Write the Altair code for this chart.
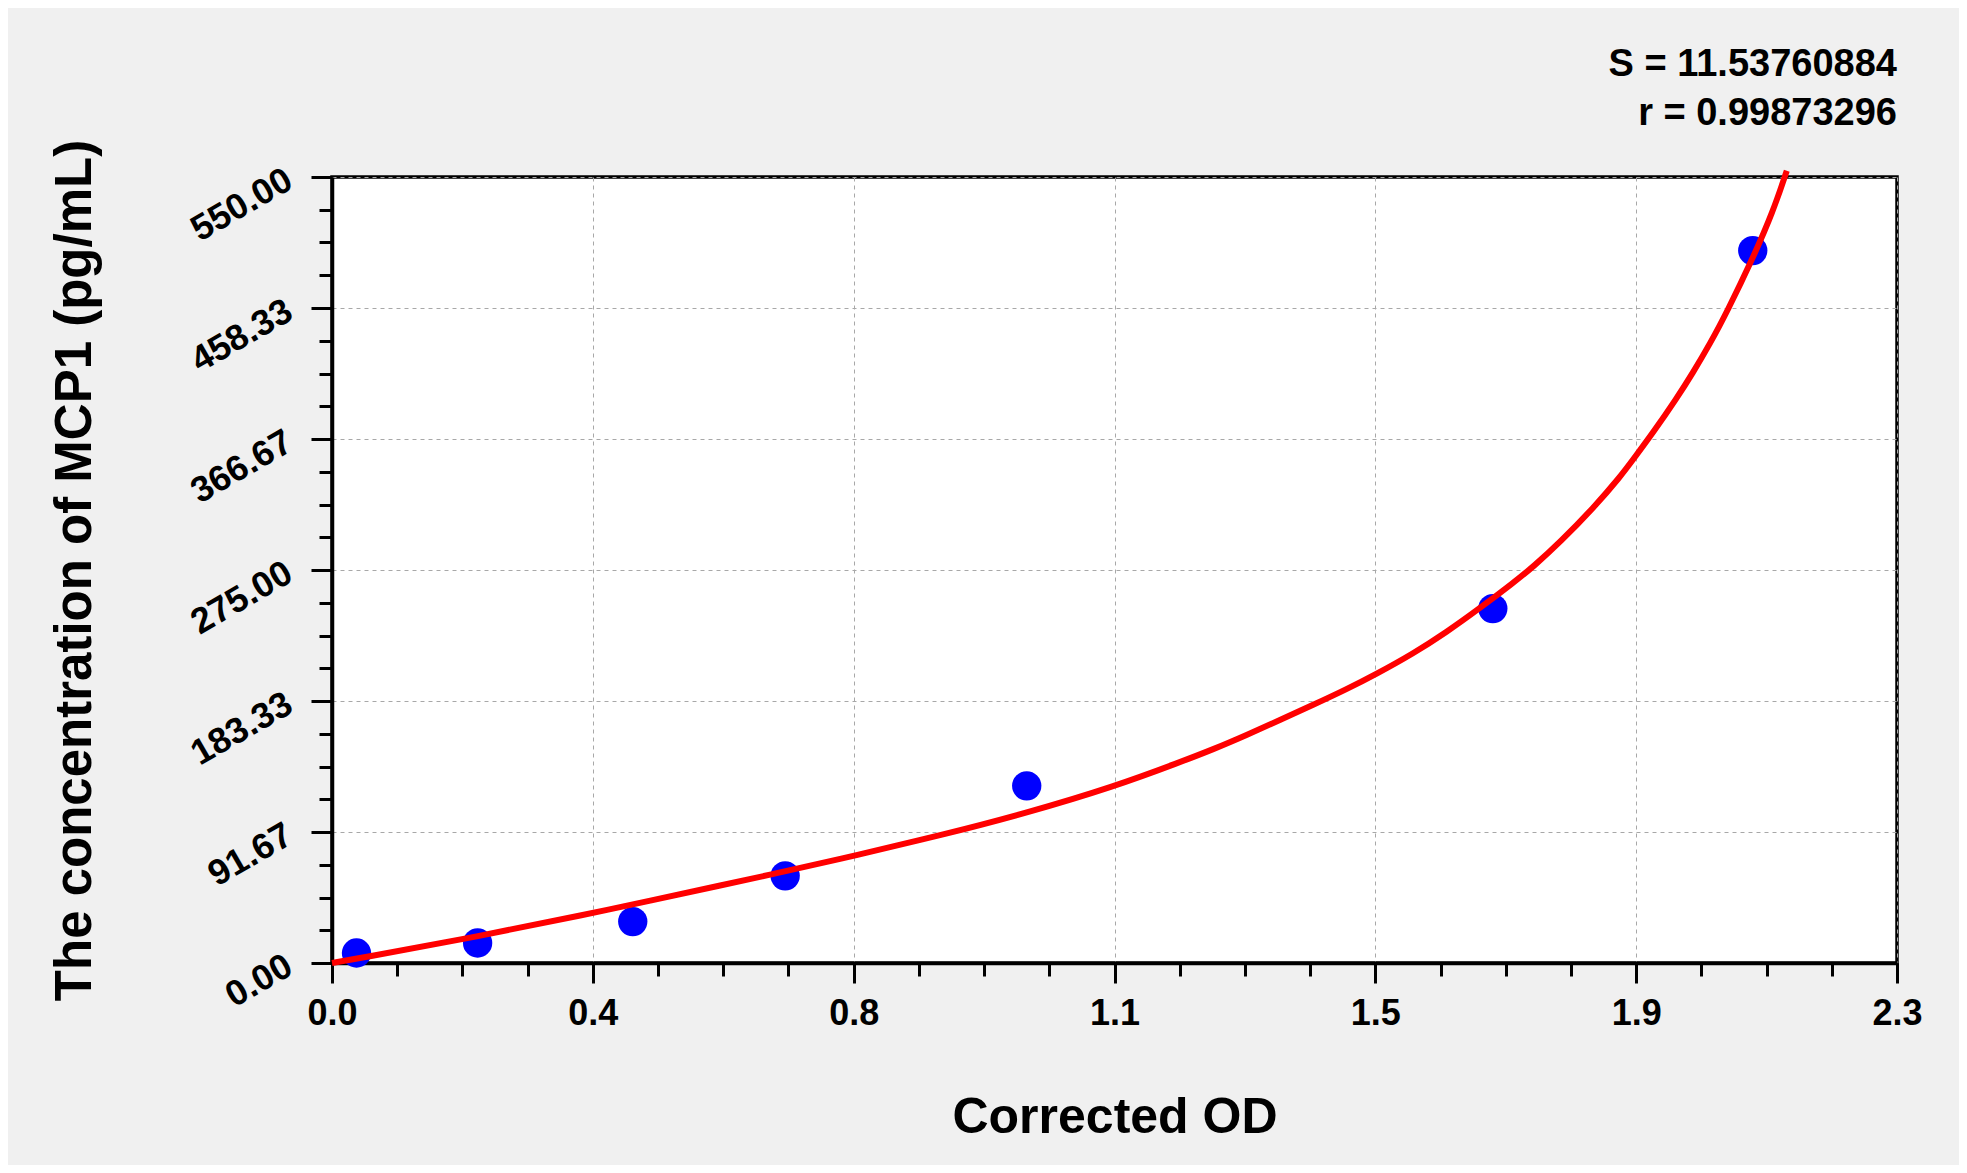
import altair as alt
import pandas as pd

# standards (x = corrected OD, y = concentration)
OD = [0.036, 0.214, 0.442, 0.666, 1.021, 1.706, 2.088]
CONC = [7.0, 14.0, 29.0, 61.0, 124.0, 248.0, 498.5]

# fitted curve
FIT_OD = [0.000, 0.036, 0.214, 0.383, 0.442, 0.666, 0.767, 0.900, 1.021,
          1.150, 1.246, 1.295, 1.344, 1.393, 1.442, 1.491, 1.534, 1.589,
          1.638, 1.687, 1.736, 1.766, 1.805, 1.854, 1.893, 1.914, 1.942,
          1.976, 2.000, 2.026, 2.050, 2.088, 2.118, 2.138]
FIT_CONC = [0.0, 3.0, 18.5, 35.0, 41.0, 64.0, 75.0, 90.0, 105.0,
            123.5, 140.5, 149.5, 159.5, 170.0, 180.6, 191.5, 202.0, 216.5,
            231.5, 248.3, 266.0, 277.5, 294.5, 318.5, 340.0, 353.5, 371.5,
            395.0, 413.0, 434.0, 455.5, 493.0, 526.0, 554.4]

X_TICKS = [0.0, 0.38333, 0.76667, 1.15, 1.53333, 1.91667, 2.3]
Y_TICKS = [0.0, 91.667, 183.333, 275.0, 366.667, 458.333, 550.0]
X_MINOR = [2.3 * i / 24 for i in range(25)]
Y_MINOR = [550 * i / 24 for i in range(25)]

STATS = ["S = 11.53760884", "r = 0.99873296"]

FONT = "Liberation Sans"

pts = pd.DataFrame({"od": OD, "conc": CONC})
fit = pd.DataFrame({"od": FIT_OD, "conc": FIT_CONC})

xs = alt.Scale(domain=[0, 2.3], nice=False, zero=False)
ys = alt.Scale(domain=[0, 550], nice=False, zero=False)

x_axis = alt.Axis(
    values=X_TICKS, format=".1f", orient="bottom", labelFlush=False,
    grid=True, gridDash=[4, 4], gridColor="#A8A8A8", gridWidth=1,
    domainColor="black", domainWidth=3.5,
    tickColor="black", tickWidth=3, tickSize=20,
    labelFont=FONT, labelFontSize=36, labelFontWeight="bold",
    labelColor="black", labelPadding=13,
    title="Corrected OD", titleFont=FONT, titleFontSize=50,
    titleFontWeight="bold", titleColor="black",
    titleY=169, titleBaseline="alphabetic",
)
y_axis = alt.Axis(
    values=Y_TICKS, format=".2f", orient="left", labelFlush=False,
    grid=True, gridDash=[4, 4], gridColor="#A8A8A8", gridWidth=1,
    domainColor="black", domainWidth=3.5,
    tickColor="black", tickWidth=3, tickSize=21,
    labelFont=FONT, labelFontSize=36, labelFontWeight="bold",
    labelColor="black", labelPadding=22, labelAngle=330,
    labelAlign="right", labelBaseline="middle",
    title="The concentration of MCP1 (pg/mL)", titleFont=FONT,
    titleFontSize=51, titleFontWeight="bold", titleColor="black",
    titleX=-257, titleY=393, titleAngle=270, titleBaseline="middle",
)

minor = (
    alt.Chart(pts)
    .mark_circle(opacity=0)
    .encode(
        x=alt.X("od:Q", scale=xs, axis=alt.Axis(
            values=X_MINOR, orient="bottom", labels=False, grid=False,
            domain=False, tickColor="black", tickWidth=3, tickSize=13,
            title=None)),
        y=alt.Y("conc:Q", scale=ys, axis=alt.Axis(
            values=Y_MINOR, orient="left", labels=False, grid=False,
            domain=False, tickColor="black", tickWidth=3, tickSize=13,
            title=None)),
    )
)

points = (
    alt.Chart(pts)
    .mark_circle(color="#0000FF", opacity=1, size=860)
    .encode(
        x=alt.X("od:Q", scale=xs, axis=x_axis),
        y=alt.Y("conc:Q", scale=ys, axis=y_axis),
    )
)

curve = (
    alt.Chart(fit)
    .mark_line(color="#FF0000", strokeWidth=6, interpolate="basis", clip=False)
    .encode(
        x=alt.X("od:Q", scale=xs, axis=None),
        y=alt.Y("conc:Q", scale=ys, axis=None),
    )
)

chart = (
    alt.layer(minor, points, curve)
    .resolve_axis(x="independent", y="independent")
    .properties(
        width=1565,
        height=786,
        padding={"left": 324, "top": 169, "right": 62, "bottom": 202},
        autosize=alt.AutoSizeParams(type="none"),
        background="#F0F0F0",
        title=alt.TitleParams(
            text=STATS, anchor="end", frame="group", font=FONT,
            fontSize=38, fontWeight="bold", color="black",
            lineHeight=49, offset=6,
        ),
    )
    .configure_view(stroke="black", strokeWidth=3.5, fill="white")
)

chart.save("out.html", embed_options={"renderer": "svg", "actions": False})
